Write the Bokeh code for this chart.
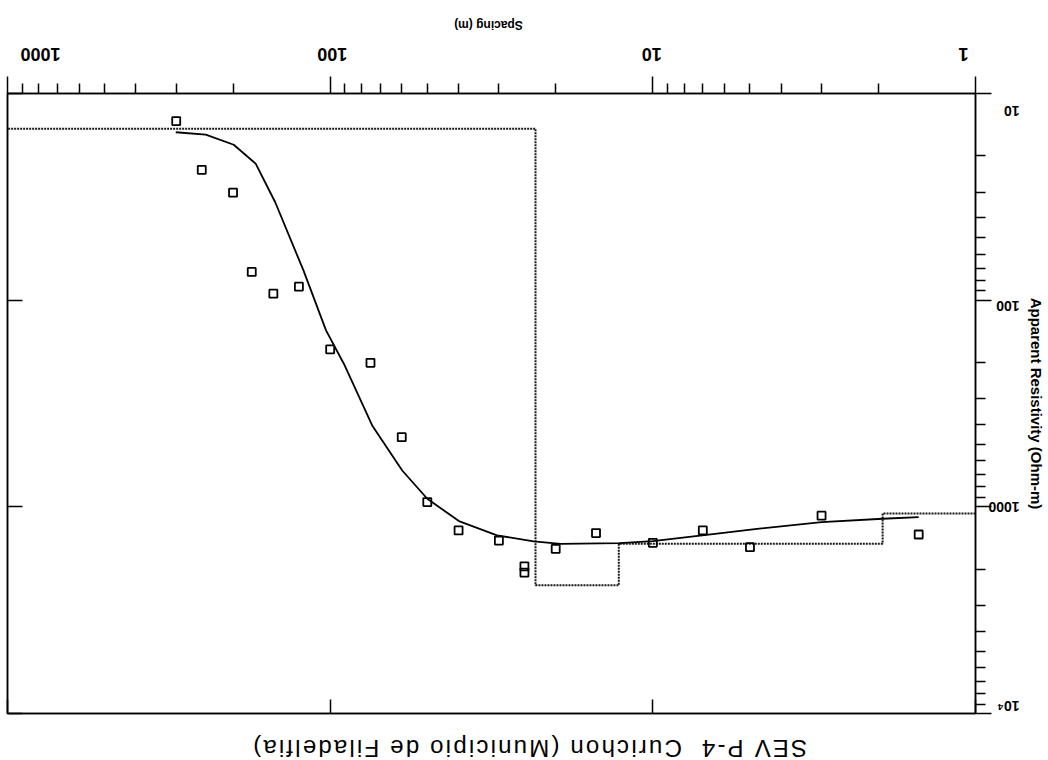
import math

from bokeh.embed import file_html
from bokeh.layouts import column
from bokeh.models import CustomJSTickFormatter, Div, FixedTicker, LogAxis, Range1d
from bokeh.plotting import figure
from bokeh.resources import INLINE

# Measured sounding: half electrode spacing AB/2 (m) and apparent resistivity (ohm-m)
spacing_obs = [1.5, 3, 5, 7, 10, 15, 20, 25, 25, 30, 40, 50, 60, 75,
               100, 125, 150, 175, 200, 250, 300]
rho_obs = [1361, 1104, 1567, 1300, 1493, 1340, 1596, 1940, 2080, 1456, 1300, 948, 460, 201,
           173, 86, 93, 73, 30.2, 23.4, 13.6]

# Computed response of the fitted layered model
spacing_fit = [1.5, 1.94, 3.0, 4.75, 7.03, 10.0, 12.7, 19.3, 23.4, 30.4, 39.9,
               50.0, 59.8, 74.1, 90.7, 103, 121, 148, 170, 199, 243, 301]
rho_fit = [1122, 1142, 1186, 1277, 1375, 1464, 1499, 1510, 1469, 1375, 1172,
           914, 667, 404, 203, 140, 71.8, 33.6, 21.9, 17.7, 15.8, 15.4]

# Fitted layered model: layer resistivities (ohm-m) and interface depths (m)
layer_rho = [1076, 1508, 2399, 14.8]
layer_depth = [1.94, 12.75, 23.1]

# Axis ticks and their labels
x_ticks = [1, 10, 100, 1000]
x_tick_labels = ["1", "10", "100", "1000"]
y_ticks = [10, 100, 1000, 10000]
y_tick_labels = ["10", "100", "1000", "10\u2074"]

title_text = "SEV P-4  Curichon (Municipio de Filadelfia)"
x_title = "Spacing (m)"
y_title = "Apparent Resistivity (Ohm-m)"

# ---------------------------------------------------------------- layout
W, H = 1048, 760
LEFT, TOP, RIGHT, BOTTOM = 7, 93, 975, 713
FRAME_W, FRAME_H = RIGHT - LEFT, BOTTOM - TOP
FIG_H = BOTTOM + 10
PX_X = FRAME_W / math.log10(max(x_ticks) / min(x_ticks))   # pixels per decade
PX_Y = FRAME_H / math.log10(max(y_ticks) / min(y_ticks))

FONT = "Liberation Sans"
XLAB_PX, YLAB_PX, XTITLE_PX, YTITLE_PX = 18, 14, 12, 15
DIGIT_EM = 0.556          # bold digit advance
XTITLE_W = 68.7           # rendered width of the spacing caption

# The sheet is turned half a revolution: spacing runs right-to-left,
# resistivity grows downward, and all lettering is upside down.
x_range = Range1d(max(x_ticks), min(x_ticks))
y_range = Range1d(max(y_ticks), min(y_ticks))


def minor_between(ticks):
    out = []
    for lo in sorted(ticks)[:-1]:
        out += [k * lo for k in range(2, 10)]
    return out


def labels_at(anchors, labels):
    return CustomJSTickFormatter(args=dict(anchors=list(anchors), labels=list(labels)), code="""
        for (let i = 0; i < anchors.length; i++) {
            if (Math.abs(anchors[i] - tick) <= 1e-9 * Math.abs(anchors[i])) return labels[i];
        }
        return "";
    """)


def blank_fmt():
    return CustomJSTickFormatter(code="return ''")


def text_only(ax):
    ax.axis_line_color = None
    ax.major_tick_line_color = None
    ax.minor_tick_line_color = None
    ax.major_tick_out = ax.major_tick_in = 0
    ax.minor_tick_out = ax.minor_tick_in = 0
    ax.major_label_orientation = math.pi
    ax.major_label_text_font = FONT
    ax.major_label_text_font_style = "bold"
    ax.major_label_text_color = "black"


p = figure(width=W, height=FIG_H, x_axis_type="log", y_axis_type="log",
           x_range=x_range, y_range=y_range,
           x_axis_location="above", y_axis_location="right",
           output_backend="svg", toolbar_location=None,
           min_border_left=LEFT, min_border_right=W - RIGHT,
           min_border_top=TOP, min_border_bottom=FIG_H - BOTTOM)
p.xgrid.visible = False
p.ygrid.visible = False
p.outline_line_color = "black"
p.outline_line_width = 1.5
p.background_fill_color = "white"
p.border_fill_color = "white"

# ---------------------------------------------------------------- tick marks on all four sides
xa = p.xaxis[0]
xa.ticker = FixedTicker(ticks=x_ticks, minor_ticks=minor_between(x_ticks))
xa.major_tick_out, xa.major_tick_in = 17, 0
xa.minor_tick_out, xa.minor_tick_in = 10, 0

ya = p.yaxis[0]
ya.ticker = FixedTicker(ticks=y_ticks, minor_ticks=minor_between(y_ticks))
ya.major_tick_out, ya.major_tick_in = 16, 0
ya.minor_tick_out, ya.minor_tick_in = 10, 0

left_ax = LogAxis(ticker=FixedTicker(ticks=y_ticks, minor_ticks=[]),
                  major_tick_in=15, major_tick_out=0, minor_tick_in=0, minor_tick_out=0)
bottom_ax = LogAxis(ticker=FixedTicker(ticks=x_ticks, minor_ticks=[]),
                    major_tick_in=14, major_tick_out=0, minor_tick_in=0, minor_tick_out=0)
p.add_layout(left_ax, "left")
p.add_layout(bottom_ax, "below")

for ax in (xa, ya, left_ax, bottom_ax):
    ax.formatter = blank_fmt()
    ax.major_label_standoff = 0
    ax.major_label_text_font_size = "1px"
    ax.axis_line_width = 1.5
    ax.major_tick_line_width = 1.5
    ax.minor_tick_line_width = 1.5

# ---------------------------------------------------------------- upside-down tick labels
# horizontal nudges (px, + to the right) keep the end labels inside the box
x_label_dx = [-12, -1, 2, 33]
x_anchor = []
for v, lab, dx in zip(x_ticks, x_tick_labels, x_label_dx):
    half_w = 0.5 * DIGIT_EM * XLAB_PX * len(lab)
    x_anchor.append(v * 10 ** (-(dx + half_w) / PX_X))

x_lab_ax = LogAxis(ticker=FixedTicker(ticks=x_anchor, minor_ticks=[]),
                   formatter=labels_at(x_anchor, x_tick_labels))
text_only(x_lab_ax)
x_lab_ax.major_label_standoff = 22
x_lab_ax.major_label_text_font_size = f"{XLAB_PX}px"
p.add_layout(x_lab_ax, "above")

# caption above the spacing labels
cap_anchor = [max(x_ticks) * 10 ** (-(488 + XTITLE_W / 2 - LEFT) / PX_X)]
x_cap_ax = LogAxis(ticker=FixedTicker(ticks=cap_anchor, minor_ticks=[]),
                   formatter=labels_at(cap_anchor, [x_title]))
text_only(x_cap_ax)
x_cap_ax.major_label_standoff = 14
x_cap_ax.major_label_text_font_size = f"{XTITLE_PX}px"
p.add_layout(x_cap_ax, "above")

# vertical nudges (px, + downward) for the resistivity labels
y_label_dy = [17, 6, 0, -8]
y_anchor = [v * 10 ** (dy / PX_Y) for v, dy in zip(y_ticks, y_label_dy)]

y_lab_ax = LogAxis(ticker=FixedTicker(ticks=y_anchor, minor_ticks=[]),
                   formatter=labels_at(y_anchor, y_tick_labels))
text_only(y_lab_ax)
y_lab_ax.major_label_standoff = 28
y_lab_ax.major_label_text_font_size = f"{YLAB_PX}px"
y_lab_ax.axis_label = y_title
y_lab_ax.axis_label_text_font = FONT
y_lab_ax.axis_label_text_font_style = "bold"
y_lab_ax.axis_label_text_font_size = f"{YTITLE_PX}px"
y_lab_ax.axis_label_text_color = "black"
try:
    y_lab_ax.axis_label_standoff = -26
except ValueError:
    y_lab_ax.axis_label_standoff = 0
p.add_layout(y_lab_ax, "right")

# ---------------------------------------------------------------- layered model (stepped)
x_near, x_far = min(x_ticks), max(x_ticks)
model_x, model_y = [x_near], [layer_rho[0]]
for depth, rho_above, rho_below in zip(layer_depth, layer_rho[:-1], layer_rho[1:]):
    model_x += [depth, depth]
    model_y += [rho_above, rho_below]
model_x.append(x_far)
model_y.append(layer_rho[-1])
p.line(model_x, model_y, line_color="#1a1a1a", line_width=2, line_dash="2 1")

# ---------------------------------------------------------------- model response and field data
p.line(spacing_fit, rho_fit, line_color="black", line_width=1.8)
p.scatter(spacing_obs, rho_obs, marker="square", size=8,
          fill_color=None, line_color="black", line_width=1.8)

# ---------------------------------------------------------------- sheet title (upside down, below the box)
title_div = Div(text=title_text, width=W, height=H - FIG_H, styles={
    "transform": "rotate(180deg)",
    "font-family": "'Liberation Sans', Arial, sans-serif",
    "font-size": "24px",
    "letter-spacing": "2.2px",
    "line-height": "34px",
    "text-align": "center",
    "white-space": "pre",
    "box-sizing": "border-box",
    "color": "black",
})

page = column(p, title_div)
open("out.html", "w").write(file_html(page, INLINE))
